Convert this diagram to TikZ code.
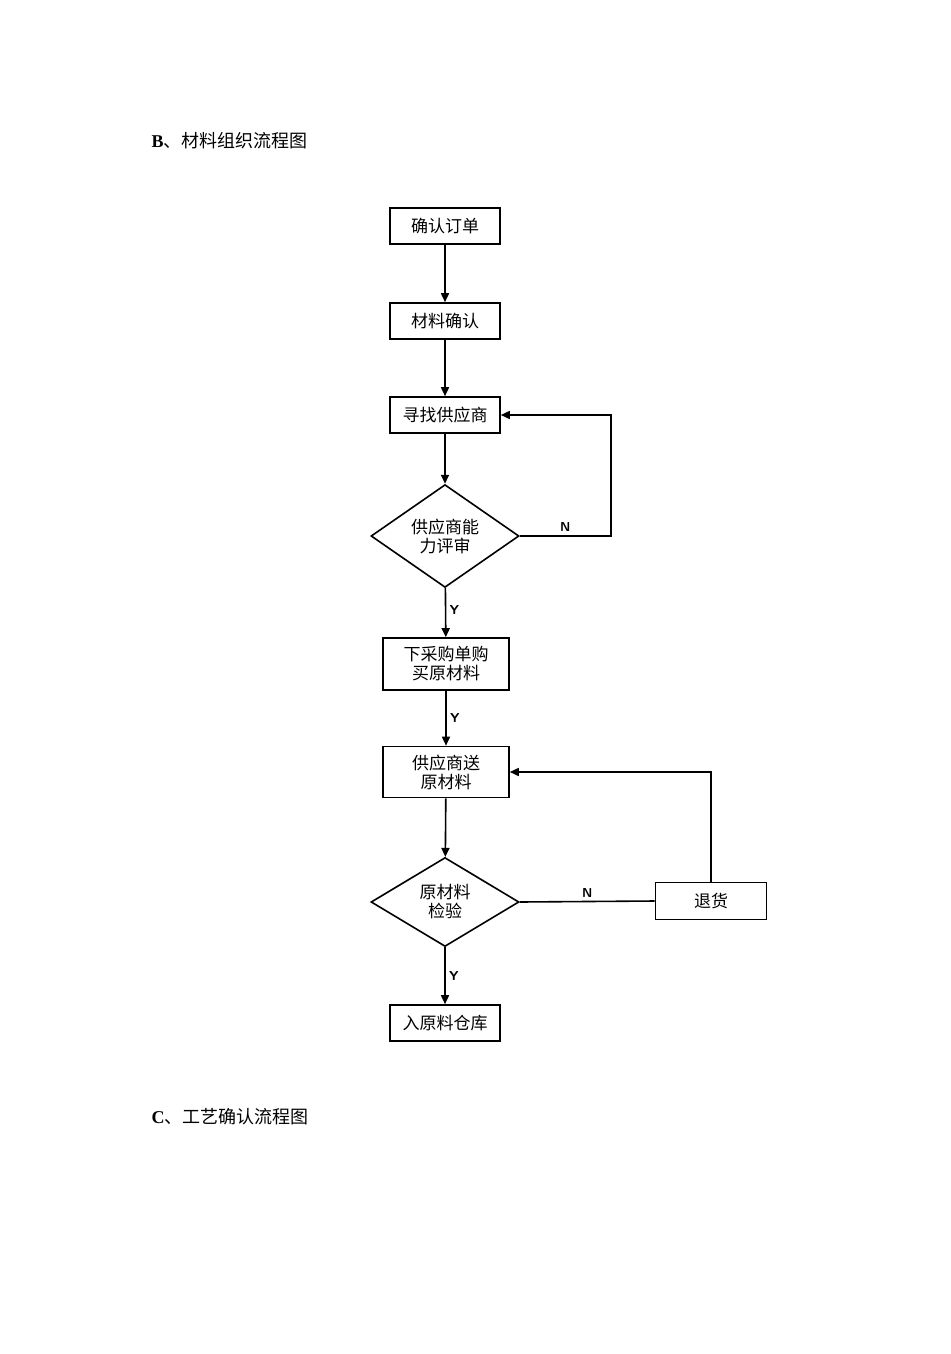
\documentclass[tikz,border=0pt]{standalone}
\usepackage{fontspec}
\setmainfont{Liberation Serif}
\newfontfamily\cjk{Noto Sans CJK SC}
\usetikzlibrary{shapes.geometric,arrows.meta}
\begin{document}
\begin{tikzpicture}[x=1pt,y=-1pt,
  box/.style={draw,line width=1.6pt,minimum height=36pt,minimum width=110pt,inner sep=1pt,font=\cjk\fontsize{17}{19}\selectfont,align=center},
  dia/.style={draw,line width=1.6pt,diamond,minimum width=148pt,minimum height=88pt,inner sep=0pt,font=\cjk\fontsize{17}{19}\selectfont,align=center},
  arr/.style={line width=1.6pt,-{Triangle[length=9pt,width=8pt]}},
  lab/.style={font=\sffamily\bfseries\fontsize{13}{14}\selectfont}]
\useasboundingbox (0,0) rectangle (950,1354);
\node[anchor=west,font=\fontsize{18}{20}\selectfont] (t1) at (148,141) {\textbf{B}{\cjk 、材料组织流程图}};
\node[anchor=west,font=\fontsize{18}{20}\selectfont] (t2) at (148,1117) {\textbf{C}{\cjk 、工艺确认流程图}};
\node[box] (a) at (445,226) {确认订单};
\node[box] (b) at (445,321) {材料确认};
\node[box] (c) at (445,415) {寻找供应商};
\node[dia] (d) at (445,536) {供应商能\\力评审};
\node[box,minimum width=126pt,minimum height=52pt] (e) at (446,664) {下采购单购\\买原材料};
\node[box,minimum width=126pt,minimum height=51pt] (f) at (446,772) {供应商送\\原材料};
\node[dia,minimum height=89pt] (g) at (445,902) {原材料\\检验};
\node[box,minimum width=111pt,minimum height=37pt] (r) at (711,901) {退货};
\node[box] (h) at (445,1023) {入原料仓库};
\draw[arr] (a) -- (b);
\draw[arr] (b) -- (c);
\draw[arr] (c) -- (d);
\draw[arr] (d) -- node[lab,right,pos=0.45]{Y} (e);
\draw[arr] (e) -- node[lab,right]{Y} (f);
\draw[arr] (f) -- (g);
\draw[arr] (g) -- node[lab,right]{Y} (h);
\draw[arr] (d.east) -- node[lab,above,pos=0.5]{N} (611,536) |- (c.east);
\draw[line width=1.6pt] (g.east) -- node[lab,above]{N} (r.west);
\draw[arr] (r.north) |- (f.east);
\end{tikzpicture}
\end{document}
